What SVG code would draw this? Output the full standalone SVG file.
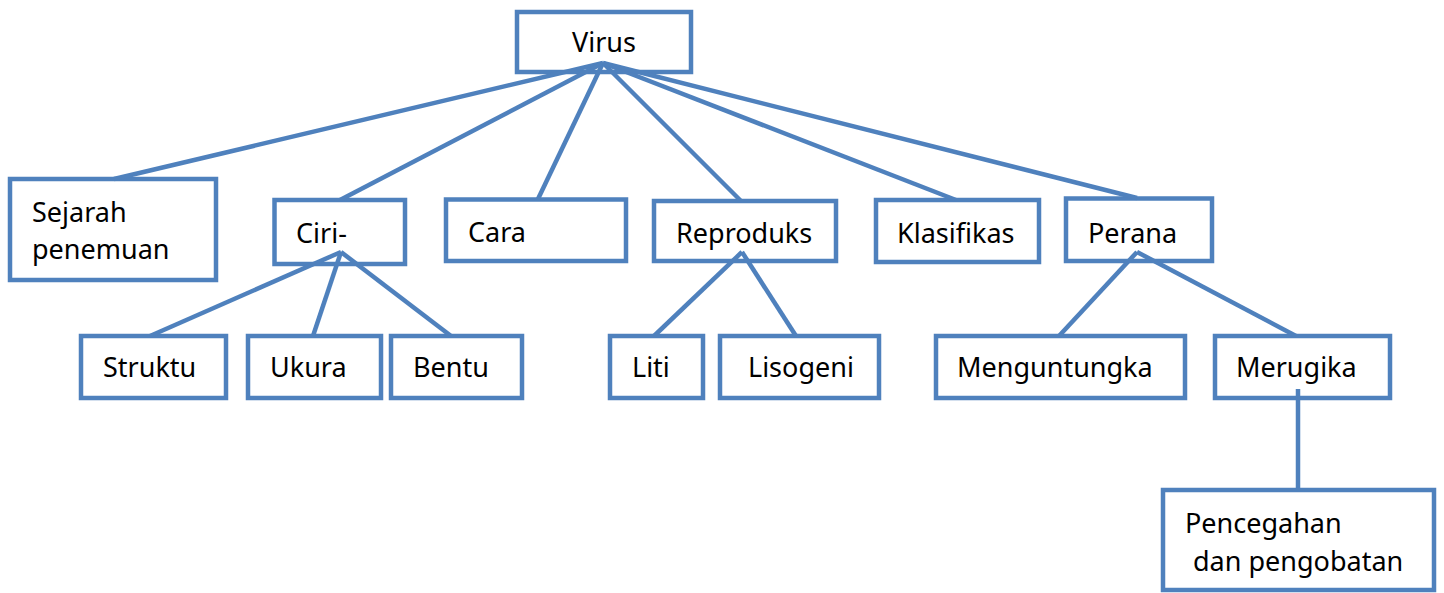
<svg xmlns="http://www.w3.org/2000/svg" width="1444" height="593" viewBox="0 0 1444 593">
<style>
.box{fill:#fff;stroke:#4F81BD;stroke-width:4.5}
.ln{stroke:#4F81BD;stroke-width:4.5;fill:none;stroke-linecap:butt}
text{font-family:"Noto Sans","Open Sans",sans-serif;font-size:27px;fill:#000}
</style>
<rect width="1444" height="593" fill="#fff"/>
<g id="virus"><rect class="box" x="517" y="12" width="174" height="60"/><text x="572" y="52">Virus</text></g>
<g id="sejarah"><rect class="box" x="10" y="179" width="206" height="101"/><text x="32" y="222">Sejarah</text><text x="32" y="259">penemuan</text></g>
<g id="ciri"><rect class="box" x="274.5" y="200" width="130.5" height="64"/><text x="296" y="243">Ciri-</text></g>
<g id="cara"><rect class="box" x="446" y="199.5" width="180" height="61.5"/><text x="468" y="242">Cara</text></g>
<g id="reproduks"><rect class="box" x="654" y="201" width="182" height="60"/><text x="676" y="243">Reproduks</text></g>
<g id="klasifikas"><rect class="box" x="876" y="200" width="163" height="62"/><text x="897" y="243">Klasifikas</text></g>
<g id="perana"><rect class="box" x="1066" y="198.5" width="146" height="62.5"/><text x="1088" y="243">Perana</text></g>
<g id="struktu"><rect class="box" x="81" y="336" width="145" height="62"/><text x="103" y="377">Struktu</text></g>
<g id="ukura"><rect class="box" x="248" y="336" width="133" height="62"/><text x="270" y="377">Ukura</text></g>
<g id="bentu"><rect class="box" x="391" y="336" width="131" height="62"/><text x="413" y="377">Bentu</text></g>
<g id="liti"><rect class="box" x="610" y="336" width="93" height="62"/><text x="632" y="377">Liti</text></g>
<g id="lisogeni"><rect class="box" x="720" y="336" width="159" height="62"/><text x="748" y="377">Lisogeni</text></g>
<g id="menguntungka"><rect class="box" x="936" y="336" width="249" height="62"/><text x="957" y="377">Menguntungka</text></g>
<g id="merugika"><rect class="box" x="1215" y="336" width="175" height="62"/><text x="1236" y="377">Merugika</text></g>
<g id="pencegahan"><rect class="box" x="1163" y="490" width="271" height="100"/><text x="1185" y="533">Pencegahan</text><text x="1193" y="571">dan pengobatan</text></g>
<g id="connectors">
<line class="ln" x1="603" y1="63" x2="114" y2="179"/>
<line class="ln" x1="603" y1="63" x2="340" y2="200"/>
<line class="ln" x1="603" y1="63" x2="538" y2="199"/>
<line class="ln" x1="603" y1="63" x2="741" y2="201"/>
<line class="ln" x1="603" y1="63" x2="956" y2="200"/>
<line class="ln" x1="603" y1="63" x2="1137" y2="198"/>
<line class="ln" x1="341" y1="252" x2="150" y2="336"/>
<line class="ln" x1="341" y1="252" x2="313" y2="336"/>
<line class="ln" x1="341" y1="252" x2="451" y2="336"/>
<line class="ln" x1="742" y1="252" x2="654" y2="336"/>
<line class="ln" x1="742" y1="252" x2="796" y2="336"/>
<line class="ln" x1="1137" y1="252" x2="1059" y2="336"/>
<line class="ln" x1="1137" y1="252" x2="1296" y2="336"/>
<line class="ln" x1="1298" y1="389" x2="1298" y2="490"/>
</g>
</svg>
